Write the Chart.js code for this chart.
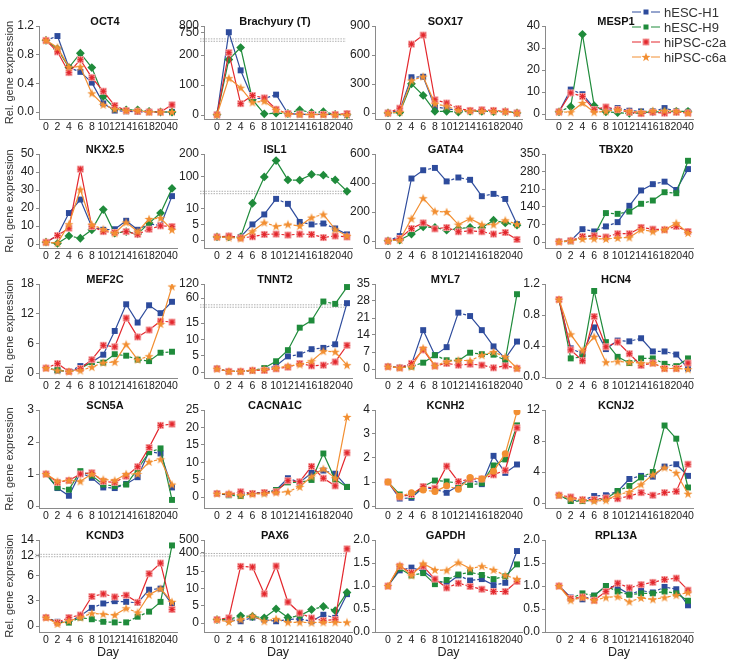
<!DOCTYPE html>
<html>
<head>
<meta charset="utf-8">
<script src="https://cdn.jsdelivr.net/npm/chart.js@4.4.0/dist/chart.umd.min.js"></script>
<style>
  body { margin: 0; background: #fff; width: 731px; height: 663px; position: relative; overflow: hidden; font-family: 'Liberation Sans', Arial, sans-serif; }
  canvas.panel { position: absolute; }
  .leg { position: absolute; left: 631px; height: 14px; display: flex; align-items: center; font-size: 13px; color: #333; }
  .leg canvas { margin-right: 3px; }
</style>
</head>
<body>
<script>
// --- data -------------------------------------------------------------
const days = ['0', '2', '4', '6', '8', '10', '12', '14', '16', '18', '20', '40'];
const lines = ['hESC-H1', 'hESC-H9', 'hiPSC-c2a', 'hiPSC-c6a'];

// each gene: rows = H1, H9, c2a, c6a
const oct4 = [
  [1.0, 1.06, 0.62, 0.56, 0.41, 0.12, 0.02, 0.01, 0.0, 0.0, 0.0, 0.0],
  [1.0, 0.88, 0.62, 0.82, 0.62, 0.22, 0.05, 0.03, 0.03, 0.01, 0.0, 0.0],
  [1.0, 0.84, 0.55, 0.73, 0.48, 0.29, 0.09, 0.02, 0.01, 0.0, 0.0, 0.10],
  [1.0, 0.90, 0.63, 0.63, 0.26, 0.10, 0.04, 0.02, 0.02, 0.0, 0.0, 0.0]];
const brachyury = [
  [1, 755, 149, 55, 55, 68, 5, 2, 2, 2, 2, 1],
  [1, 185, 225, 51, 4, 6, 5, 17, 8, 11, 2, 1],
  [1, 208, 38, 65, 57, 19, 5, 3, 2, 2, 2, 5],
  [1, 123, 91, 42, 46, 17, 3, 2, 1, 1, 1, 1]];
const sox17 = [
  [1, 27, 370, 375, 62, 45, 27, 20, 20, 17, 14, 1],
  [1, 5, 302, 182, 17, 17, 10, 17, 17, 14, 14, 1],
  [1, 50, 713, 806, 137, 103, 45, 27, 34, 27, 17, 1],
  [1, 10, 336, 377, 96, 69, 27, 20, 20, 17, 14, 1]];
const mesp1 = [
  [1, 11.1, 9.0, 2.7, 2.0, 2.7, 1.5, 1.2, 1.2, 2.7, 1.2, 1.0],
  [1, 3.3, 36.2, 3.8, 1.0, 0.6, 0.3, 0.5, 1.0, 1.0, 1.2, 1.2],
  [1, 9.6, 8.0, 2.0, 3.2, 2.0, 0.8, 0.2, 0.8, 0.4, 0.8, 0.5],
  [1, 0.8, 5.0, 0.8, 1.2, 2.0, 1.2, 0.8, 1.5, 1.5, 1.2, 0.5]];
const nkx25 = [
  [1, 4.7, 17.2, 24.7, 9.4, 7.9, 8.2, 12.9, 7.9, 11.2, 10.3, 26.6],
  [1, 0.3, 4.5, 3.2, 7.9, 19.1, 6.0, 6.9, 5.6, 11.6, 17.2, 30.9],
  [1, 4.7, 8.8, 41.6, 9.7, 6.9, 6.4, 6.9, 5.4, 8.2, 10.1, 9.7],
  [1, 0.5, 11.0, 30.3, 10.7, 8.2, 6.0, 12.0, 6.9, 13.9, 14.4, 7.9]];
const isl1 = [
  [1, 1, 1, 5.0, 8.2, 13.2, 11.6, 5.8, 5.0, 5.3, 3.7, 1.8],
  [1, 1, 1, 11.8, 99, 171, 86, 85, 110, 107, 86, 36],
  [1, 1.3, 0.7, 1.05, 1.8, 1.9, 1.6, 1.9, 1.8, 0.8, 1.3, 1.0],
  [1, 0.8, 0.5, 2.8, 5.6, 4.4, 5.0, 4.5, 7.2, 8.2, 3.4, 1.3]];
const gata4 = [
  [1, 34, 431, 488, 504, 411, 438, 422, 309, 325, 290, 116],
  [1, 7, 48, 98, 93, 75, 86, 93, 91, 143, 125, 109],
  [1, 18, 86, 125, 84, 93, 64, 70, 64, 48, 59, 11],
  [1, 7, 154, 295, 204, 200, 113, 154, 113, 113, 143, 116]];
const tbx20 = [
  [1, 5, 51, 42, 62, 79, 144, 205, 230, 240, 207, 290],
  [1, 3, 20, 25, 115, 112, 121, 152, 165, 198, 194, 323],
  [1, 5, 22, 25, 20, 33, 33, 58, 51, 49, 62, 42],
  [1, 5, 12, 13, 12, 16, 18, 49, 42, 49, 75, 36]];
const mef2c = [
  [1, 0.5, 0.3, 1.4, 2.2, 3.7, 8.5, 13.9, 10.2, 13.7, 12.1, 14.4],
  [1, 0.6, 0.3, 0.9, 2.2, 2.1, 3.8, 3.5, 2.7, 2.4, 4.1, 4.3],
  [1, 1.9, 0.3, 0.9, 2.7, 5.6, 5.3, 11.1, 7.3, 8.7, 10.5, 10.3],
  [1, 0.5, 0.3, 0.5, 1.2, 2.1, 2.2, 5.8, 2.7, 3.4, 9.9, 17.5]];
const tnnt2 = [
  [1, 0.2, 0.2, 0.5, 0.8, 1.9, 4.8, 5.4, 7.0, 7.4, 8.5, 38],
  [1, 0.2, 0.2, 0.5, 1.2, 3.3, 6.7, 13.6, 15.8, 45, 35, 107],
  [1, 0.2, 0.2, 0.5, 0.5, 1.0, 1.5, 2.6, 1.9, 2.1, 3.1, 8.2],
  [1, 0.2, 0.2, 0.5, 0.8, 1.2, 1.8, 2.3, 3.3, 6.4, 6.2, 2.1]];
const myl7 = [
  [1, 0.5, 1.9, 16.0, 5.7, 9.0, 23.2, 21.8, 16.0, 9.3, 4.3, 11.3],
  [1, 0.5, 1.0, 2.6, 5.7, 3.6, 3.4, 6.7, 6.1, 5.9, 3.6, 30.8],
  [1, 0.5, 2.3, 7.9, 1.3, 2.3, 1.6, 2.0, 1.6, 0.5, 1.3, 0.3],
  [1, 0.5, 0.9, 8.6, 1.3, 3.0, 3.6, 3.4, 5.7, 7.0, 5.0, 0.3]];
const hcn4 = [
  [1, 0.37, 0.30, 0.64, 0.36, 0.47, 0.46, 0.50, 0.33, 0.33, 0.29, 0.11],
  [1, 0.24, 0.26, 1.11, 0.45, 0.26, 0.18, 0.24, 0.24, 0.17, 0.14, 0.24],
  [1, 0.35, 0.21, 0.78, 0.39, 0.45, 0.30, 0.15, 0.18, 0.11, 0.11, 0.18],
  [1, 0.55, 0.34, 0.52, 0.19, 0.20, 0.19, 0.18, 0.18, 0.11, 0.11, 0.10]];
const scn5a = [
  [1, 0.56, 0.32, 1.04, 0.88, 0.58, 0.56, 0.69, 0.90, 1.70, 1.64, 0.58],
  [1, 0.58, 0.51, 1.09, 0.95, 0.67, 0.62, 0.67, 1.15, 1.68, 1.80, 0.19],
  [1, 0.74, 0.80, 1.00, 1.04, 0.77, 0.74, 0.93, 1.23, 1.83, 2.52, 2.56],
  [1, 0.77, 0.80, 0.77, 1.00, 0.83, 0.80, 1.00, 1.00, 1.38, 1.46, 0.67]];
const cacna1c = [
  [1, 0.7, 0.8, 1.1, 1.3, 2.0, 5.4, 4.2, 6.9, 7.6, 6.7, 2.9],
  [1, 0.5, 0.3, 1.0, 1.1, 2.0, 4.2, 4.2, 4.9, 12.5, 5.0, 2.9],
  [1, 0.8, 1.5, 1.0, 1.3, 1.5, 4.7, 4.4, 8.8, 5.4, 3.2, 12.7],
  [1, 1.0, 0.5, 0.8, 1.0, 1.3, 1.5, 2.9, 5.9, 8.1, 5.4, 23.0]];
const kcnh2 = [
  [1, 0.31, 0.34, 0.77, 0.70, 0.55, 0.84, 1.12, 0.91, 2.09, 1.38, 1.73],
  [1, 0.48, 0.41, 0.81, 1.06, 1.02, 0.95, 0.88, 0.95, 1.69, 1.94, 3.36],
  [1, 0.38, 0.48, 0.81, 0.74, 1.66, 1.02, 1.12, 1.13, 1.30, 1.49, 3.26],
  [1, 0.41, 0.55, 0.67, 0.60, 0.84, 0.70, 1.19, 1.12, 1.45, 2.18, 3.93]];
const kcnj2 = [
  [1, 0.35, 0.35, 0.9, 1.0, 1.5, 3.1, 3.5, 3.4, 4.7, 5.0, 3.5],
  [1, 0.25, 0.25, 0.35, 0.56, 1.55, 2.2, 3.3, 4.0, 10.0, 8.3, 2.0],
  [1, 0.78, 0.43, 0.47, 0.65, 0.56, 0.9, 1.34, 1.0, 1.34, 1.5, 5.0],
  [1, 0.56, 0.35, 0.25, 0.35, 1.08, 1.42, 2.4, 3.66, 4.57, 3.88, 1.2]];
const kcnd3 = [
  [1, 0.5, 0.5, 1.2, 2.15, 2.67, 2.94, 2.86, 2.75, 4.3, 4.43, 2.6],
  [1, 0.43, 0.4, 1.0, 0.8, 0.5, 0.43, 0.43, 1.1, 1.7, 2.86, 13.3],
  [1, 0.4, 1.0, 1.3, 3.5, 3.8, 3.45, 3.65, 2.8, 6.2, 7.45, 1.96],
  [1, 0.24, 0.6, 1.0, 1.5, 1.4, 1.3, 2.1, 1.6, 3.7, 4.43, 2.86]];
const pax6 = [
  [1, 1.0, 0.5, 1.6, 1.0, 0.5, 1.0, 1.2, 0.5, 2.4, 1.5, 8.4],
  [1, 1.0, 2.1, 1.9, 1.5, 4.1, 1.6, 2.1, 3.9, 4.8, 3.6, 8.9],
  [1, 1.5, 16.5, 16.3, 8.5, 16.6, 6.1, 2.9, 1.45, 0.7, 1.0, 430],
  [1, 0.3, 1.0, 2.1, 0.5, 1.2, 0.2, 0.2, 0.1, 0.2, 0.2, 0.2]];
const gapdh = [
  [1, 1.34, 1.40, 1.32, 1.14, 1.04, 1.23, 1.12, 1.15, 1.02, 1.07, 1.76],
  [1, 1.38, 1.23, 1.28, 1.04, 1.13, 1.25, 1.30, 1.24, 1.15, 1.21, 1.47],
  [1, 1.43, 1.29, 1.43, 1.15, 0.96, 1.06, 0.99, 0.93, 0.88, 0.88, 1.10],
  [1, 1.45, 1.23, 1.49, 1.35, 1.34, 1.51, 1.38, 1.43, 1.35, 1.23, 1.15]];
const rpl13a = [
  [1, 0.75, 0.71, 0.79, 1.0, 0.97, 0.82, 0.90, 0.86, 0.98, 0.93, 0.58],
  [1, 0.73, 0.84, 0.79, 1.0, 0.88, 0.81, 0.84, 0.84, 0.88, 0.84, 0.68],
  [1, 0.73, 0.76, 0.69, 0.88, 1.06, 0.96, 1.03, 1.08, 1.14, 1.17, 0.91],
  [1, 0.69, 0.75, 0.69, 0.75, 0.77, 0.66, 0.74, 0.71, 0.75, 0.80, 0.86]];

// y tick labels
const oct4Ticks = ['0.0', '0.4', '0.8', '1.2'];
const brachyuryTicks = ['0', '100', '200', '750', '800'];
const sox17Ticks = ['0', '300', '600', '900'];
const mesp1Ticks = ['0', '10', '20', '30', '40'];
const nkx25Ticks = ['0', '10', '20', '30', '40', '50'];
const isl1Ticks = ['0', '5', '10', '100', '200'];
const gata4Ticks = ['0', '200', '400', '600'];
const tbx20Ticks = ['0', '70', '140', '210', '280', '350'];
const mef2cTicks = ['0', '6', '12', '18'];
const tnnt2Ticks = ['0', '5', '10', '15', '60', '120'];
const myl7Ticks = ['0', '7', '14', '21', '28', '35'];
const hcn4Ticks = ['0.0', '0.4', '0.8', '1.2'];
const scn5aTicks = ['0', '1', '2', '3'];
const cacna1cTicks = ['0', '5', '10', '15', '20', '25'];
const kcnh2Ticks = ['0', '1', '2', '3', '4'];
const kcnj2Ticks = ['0', '4', '8', '12'];
const kcnd3Ticks = ['0', '3', '6', '12', '14'];
const pax6Ticks = ['0', '5', '10', '15', '400', '500'];
const gapdhTicks = ['0.0', '0.5', '1.0', '1.5', '2.0'];
const rpl13aTicks = ['0.0', '0.5', '1.0', '1.5', '2.0'];

// --- layout / style ----------------------------------------------------
const BLUE = '#2d4b9c', GREEN = '#1f8b3b', RED = '#e3272d', ORANGE = '#f28f32';
const AXIS = '#8a8a8a';
const SANS = "'Liberation Sans', Arial, sans-serif";

const panels = [
  { name: 'OCT4', data: oct4, ticks: oct4Ticks, gap: 7, green: 'rectRot' },
  { name: 'Brachyury (T)', data: brachyury, ticks: brachyuryTicks, gap: 4, green: 'rectRot', brk: { split: 400, hi: 750, t0: 274, k: 0.46, at: 250 } },
  { name: 'SOX17', data: sox17, ticks: sox17Ticks, gap: 6, green: 'rectRot' },
  { name: 'MESP1', data: mesp1, ticks: mesp1Ticks, gap: 5, green: 'rectRot' },
  { name: 'NKX2.5', data: nkx25, ticks: nkx25Ticks, gap: 4, green: 'rectRot' },
  { name: 'ISL1', data: isl1, ticks: isl1Ticks, gap: 8, green: 'rectRot', brk: { split: 20, hi: 100, t0: 20.3, k: 0.073, at: 15.25 } },
  { name: 'GATA4', data: gata4, ticks: gata4Ticks, gap: 7, green: 'rectRot' },
  { name: 'TBX20', data: tbx20, ticks: tbx20Ticks, gap: 6 },
  { name: 'MEF2C', data: mef2c, ticks: mef2cTicks, gap: 5 },
  { name: 'TNNT2', data: tnnt2, ticks: tnnt2Ticks, gap: 6, brk: { split: 25, hi: 60, t0: 22.7, k: 0.0717, at: 20.25 } },
  { name: 'MYL7', data: myl7, ticks: myl7Ticks, gap: 9 },
  { name: 'HCN4', data: hcn4, ticks: hcn4Ticks, gap: 1 },
  { name: 'SCN5A', data: scn5a, ticks: scn5aTicks, gap: 2 },
  { name: 'CACNA1C', data: cacna1c, ticks: cacna1cTicks, gap: 11 },
  { name: 'KCNH2', data: kcnh2, ticks: kcnh2Ticks, gap: 2, orange: 'circle' },
  { name: 'KCNJ2', data: kcnj2, ticks: kcnj2Ticks, gap: 5 },
  { name: 'KCND3', data: kcnd3, ticks: kcnd3Ticks, gap: 6, brk: { split: 10, hi: 12, t0: 8.35, k: 0.92, at: 8.35 } },
  { name: 'PAX6', data: pax6, ticks: pax6Ticks, gap: 9, green: 'rectRot', brk: { split: 100, hi: 400, t0: 20.5, k: 0.0368, at: 19.9 } },
  { name: 'GAPDH', data: gapdh, ticks: gapdhTicks, gap: 0 },
  { name: 'RPL13A', data: rpl13a, ticks: rpl13aTicks, gap: 0 }
];

// column geometry: y-axis x, day-0 x, day-40 x, right end
const cols = [
  { axis: 39, x0: 46, x40: 172, right: 177, wy: 39 },
  { axis: 204, x0: 217, x40: 347, right: 352, wy: 32 },
  { axis: 375, x0: 388, x40: 517, right: 522, wy: 32 },
  { axis: 545, x0: 559, x40: 688, right: 693, wy: 32 }
];
const rows = [
  { top: 26, bottom: 119 },
  { top: 154, bottom: 248 },
  { top: 284, bottom: 378 },
  { top: 410, bottom: 508 },
  { top: 540, bottom: 632 }
];
const PAD_TOP = 12, PAD_RIGHT = 6;

// --- markers -----------------------------------------------------------
function redMark() {
  const c = document.createElement('canvas');
  c.width = c.height = 9;
  const g = c.getContext('2d');
  g.fillStyle = '#f6b4b4';
  g.fillRect(1, 1, 7, 7);
  g.strokeStyle = RED;
  g.lineWidth = 1.1;
  g.beginPath();
  g.moveTo(1.5, 4.5); g.lineTo(7.5, 4.5);
  g.moveTo(4.5, 1.5); g.lineTo(4.5, 7.5);
  g.moveTo(2, 2); g.lineTo(7, 7);
  g.moveTo(7, 2); g.lineTo(2, 7);
  g.stroke();
  return c;
}
function starMark() {
  const c = document.createElement('canvas');
  c.width = c.height = 10;
  const g = c.getContext('2d');
  g.fillStyle = ORANGE;
  g.beginPath();
  for (let i = 0; i < 10; i++) {
    const r = i % 2 ? 1.9 : 4.8;
    const a = -Math.PI / 2 + i * Math.PI / 5;
    const px = 5 + r * Math.cos(a), py = 5.4 + r * Math.sin(a);
    i ? g.lineTo(px, py) : g.moveTo(px, py);
  }
  g.closePath();
  g.fill();
  return c;
}
const RED_MARK = redMark();
const STAR_MARK = starMark();

// broken axis helper
function transform(brk) {
  if (!brk) return v => v;
  return v => v > brk.split ? brk.t0 + (v - brk.hi) * brk.k : v;
}

// short segments are drawn dashed, long ones solid (as in the figure)
const segStyle = {
  borderDash: ctx => Math.hypot(ctx.p1.x - ctx.p0.x, ctx.p1.y - ctx.p0.y) < 13 ? [3, 2] : []
};

const panelDecor = {
  id: 'panelDecor',
  beforeDatasetsDraw(chart) {
    const o = chart.options.plugins.panelDecor;
    const { ctx, chartArea } = chart;
    if (o.breakAt !== undefined) {
      const y = chart.scales.y.getPixelForValue(o.breakAt);
      ctx.save();
      ctx.strokeStyle = '#9a9a9a';
      ctx.lineWidth = 0.8;
      ctx.setLineDash([1.5, 1.2]);
      [-1.2, 1.2].forEach(d => {
        ctx.beginPath();
        ctx.moveTo(chartArea.left - 4, y + d);
        ctx.lineTo(chartArea.right - 6, y + d);
        ctx.stroke();
      });
      ctx.restore();
    }
  },
  afterDraw(chart) {
    const o = chart.options.plugins.panelDecor;
    const { ctx, chartArea } = chart;
    ctx.save();
    ctx.font = 'bold 11px ' + SANS;
    ctx.fillStyle = '#111';
    ctx.textAlign = 'center';
    ctx.textBaseline = 'middle';
    ctx.fillText(o.title, (chartArea.left + chartArea.right) / 2 - 3, chartArea.top - 4);
    ctx.restore();
  }
};

panels.forEach((p, idx) => {
  const col = cols[idx % 4], row = rows[Math.floor(idx / 4)];
  const last = Math.floor(idx / 4) === rows.length - 1;
  const hx = last ? 28 : 20;
  const plotW = col.right - col.axis, plotH = row.bottom - row.top;
  const canvas = document.createElement('canvas');
  canvas.className = 'panel';
  canvas.width = col.wy + plotW + PAD_RIGHT;
  canvas.height = PAD_TOP + plotH + hx;
  canvas.style.left = (col.axis - col.wy) + 'px';
  canvas.style.top = (row.top - PAD_TOP) + 'px';
  document.body.appendChild(canvas);

  const tf = transform(p.brk);
  const tickVals = p.ticks.map(t => tf(parseFloat(t)));
  const yMax = tickVals[tickVals.length - 1];
  const yMin = -yMax * p.gap / (plotH - p.gap);
  const sp = (col.x40 - col.x0) / 11;

  const styles = [
    { color: BLUE, point: 'rect', radius: 4.2, order: 3 },
    { color: GREEN, point: p.green || 'rect', radius: p.green ? 4.4 : 4.2, order: 2 },
    { color: RED, point: RED_MARK, radius: 4, order: 1 },
    { color: ORANGE, point: p.orange || STAR_MARK, radius: p.orange ? 3.5 : 4, order: 0 }
  ];

  new Chart(canvas, {
    type: 'line',
    data: {
      datasets: p.data.map((vals, s) => ({
        label: lines[s],
        data: vals.map((v, i) => ({ x: i, y: tf(v) })),
        borderColor: styles[s].color,
        backgroundColor: styles[s].color,
        borderWidth: 1.2,
        pointStyle: styles[s].point,
        pointRadius: styles[s].radius,
        pointBorderWidth: 0,
        order: styles[s].order,
        segment: segStyle
      }))
    },
    options: {
      responsive: false,
      animation: false,
      events: [],
      layout: { padding: { top: PAD_TOP, right: PAD_RIGHT, left: 0, bottom: 0 } },
      plugins: {
        legend: { display: false },
        tooltip: { enabled: false },
        panelDecor: { title: p.name, breakAt: p.brk ? p.brk.at : undefined }
      },
      scales: {
        x: {
          type: 'linear',
          min: -(col.x0 - col.axis) / sp,
          max: 11 + (col.right - col.x40) / sp,
          afterBuildTicks: s => { s.ticks = days.map((d, i) => ({ value: i })); },
          afterFit: s => { s.height = hx; },
          ticks: {
            autoSkip: false, maxRotation: 0, padding: 2,
            color: '#222', font: { family: SANS, size: 10.5 },
            callback: v => days[v]
          },
          grid: { display: false, drawTicks: false },
          border: { color: AXIS, width: 1 },
          title: {
            display: last, text: 'Day', color: '#222',
            font: { family: SANS, size: 12.5 }, padding: 0
          }
        },
        y: {
          min: yMin,
          max: yMax,
          afterBuildTicks: s => { s.ticks = tickVals.map(v => ({ value: v })); },
          afterFit: s => { s.width = col.wy; },
          ticks: {
            padding: 2, color: '#222', font: { family: SANS, size: 12 },
            callback: (v, i) => p.ticks[i]
          },
          grid: { drawOnChartArea: false, drawTicks: true, tickLength: 3, color: AXIS },
          border: { color: AXIS, width: 1 },
          title: {
            display: idx % 4 === 0, text: 'Rel. gene expression', color: '#333',
            font: { family: SANS, size: 11 }, padding: { top: 3, bottom: 0 }
          }
        }
      }
    },
    plugins: [panelDecor]
  });
});

// legend (top right)
const legendStyles = [
  { color: BLUE, mark: 'rect' },
  { color: GREEN, mark: 'rect' },
  { color: RED, mark: RED_MARK },
  { color: ORANGE, mark: STAR_MARK }
];
lines.forEach((name, i) => {
  const row = document.createElement('div');
  row.className = 'leg';
  row.style.top = (5 + i * 15) + 'px';
  const c = document.createElement('canvas');
  c.width = 30; c.height = 12;
  const g = c.getContext('2d');
  const st = legendStyles[i];
  g.strokeStyle = st.color;
  g.lineWidth = 1;
  g.beginPath();
  g.moveTo(1, 6); g.lineTo(10, 6);
  g.moveTo(20, 6); g.lineTo(29, 6);
  g.stroke();
  if (st.mark === 'rect') {
    g.fillStyle = st.color;
    g.fillRect(12.5, 3.5, 5, 5);
  } else {
    g.drawImage(st.mark, 15 - st.mark.width / 2, 6 - st.mark.height / 2);
  }
  row.appendChild(c);
  const t = document.createElement('span');
  t.textContent = name;
  row.appendChild(t);
  document.body.appendChild(row);
});
</script>
</body>
</html>
